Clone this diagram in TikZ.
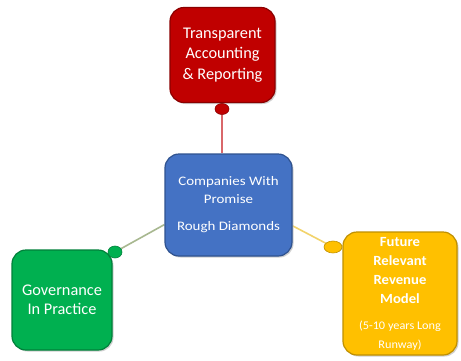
\documentclass[tikz,border=0pt]{standalone}
\usepackage{fontspec}
\setmainfont{Carlito}
\newfontfamily\bluefnt{Carlito}[FakeStretch=1.15]
\newfontfamily\yellowfnt{Carlito}[FakeStretch=1.05]
\usetikzlibrary{shadows,backgrounds,shapes.geometric}
\definecolor{redfill}{HTML}{C00000}
\definecolor{redline}{HTML}{8B0000}
\definecolor{bluefill}{HTML}{4472C4}
\definecolor{blueline}{HTML}{2F528F}
\definecolor{greenfill}{HTML}{00B050}
\definecolor{greenline}{HTML}{00803A}
\definecolor{yellowfill}{HTML}{FFC000}
\definecolor{yellowline}{HTML}{C09000}
\definecolor{redlink}{HTML}{D9676A}
\definecolor{greenlink}{HTML}{A8B890}
\definecolor{yellowlink}{HTML}{F2D36B}
\newcommand{\smallfnt}{\mdseries\fontsize{11.7}{16}\selectfont}
\tikzset{
  card/.style={rounded corners=14pt, line width=1.2pt, text=white, align=center,
    inner sep=2pt, drop shadow={shadow xshift=1.5pt, shadow yshift=-1.5pt, fill=gray!60, opacity=0.6}},
  dot/.style={ellipse, inner sep=0pt, line width=0.6pt},
  link/.style={line width=1.6pt}
}
\begin{document}
\begin{tikzpicture}[x=1pt,y=-1pt]
\useasboundingbox (0,0) rectangle (461,360);
% boxes
\node[card, fill=redfill, draw=redline, minimum width=105pt, minimum height=95pt,
  font=\fontsize{16.3}{20.5}\selectfont] (red) at (222.5,55) {Transparent\\Accounting\\\& Reporting};
\node[card, fill=bluefill, draw=blueline, minimum width=127pt, minimum height=102pt,
  font=\bluefnt\fontsize{13}{18}\selectfont] (blue) at (228.5,205) {Companies With\\Promise\\[9pt]Rough Diamonds};
\node[card, fill=greenfill, draw=greenline, minimum width=100pt, minimum height=100pt,
  font=\fontsize{16.3}{18.5}\selectfont] (green) at (62,300) {Governance\\In Practice};
\node[card, fill=yellowfill, draw=yellowline, minimum width=114pt, minimum height=123pt,
  font=\yellowfnt\bfseries\fontsize{14}{19}\selectfont] (yellow) at (400,293.5)
  {Future\\Relevant\\Revenue\\Model\\[7pt]\smallfnt (5-10 years Long\\\smallfnt Runway)};
% dots
\node[dot, fill=redfill, draw=redline, minimum width=14pt, minimum height=11pt] (rdot) at (222,109) {};
\node[dot, fill=greenfill, draw=greenline, minimum width=14pt, minimum height=12pt] (gdot) at (115,252) {};
\node[dot, fill=yellowfill, draw=yellowline, minimum width=18pt, minimum height=12pt] (ydot) at (333,247) {};
% connectors
\begin{scope}[on background layer]
\fill[white] (0,0) rectangle (461,360);
\draw[link, draw=redlink] (rdot) -- (rdot |- blue.north);
\draw[link, draw=greenlink] (gdot) -- (blue.197);
\draw[link, draw=yellowlink] (ydot) -- (blue.-18);
\end{scope}
\end{tikzpicture}
\end{document}
